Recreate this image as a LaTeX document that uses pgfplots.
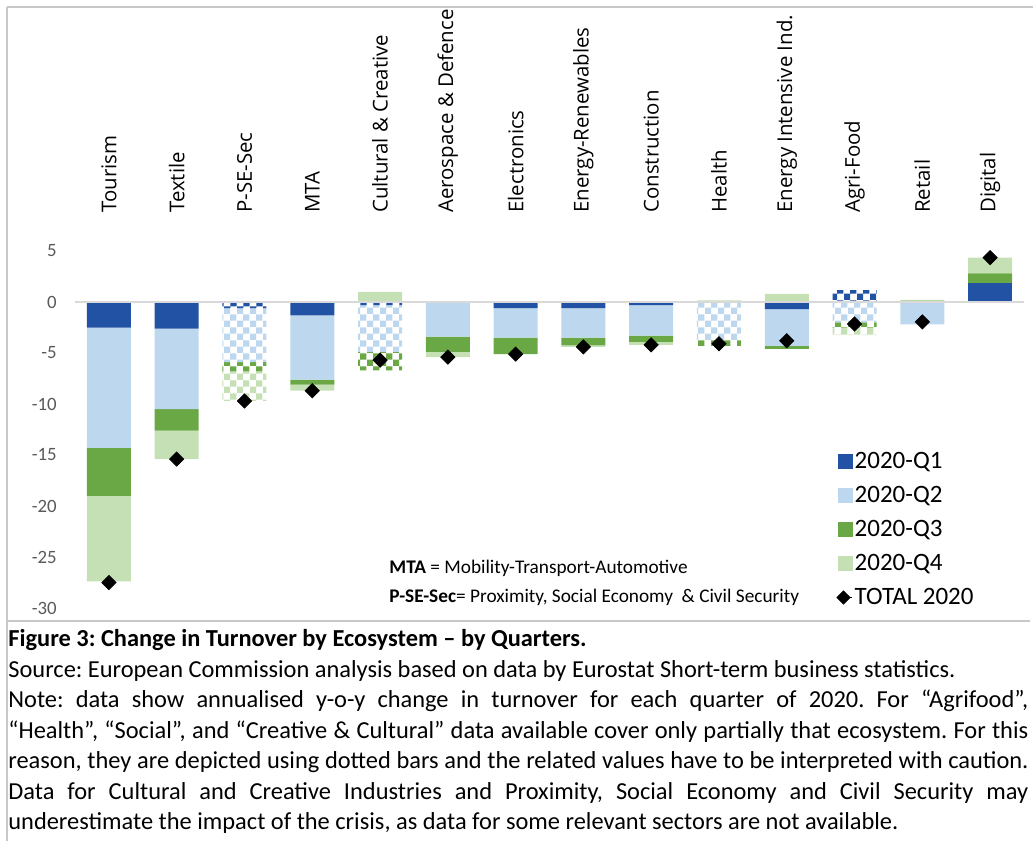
\documentclass[border=0pt]{standalone}
\usepackage{fontspec}
\setmainfont{Carlito}
\newfontfamily\catfont{Open Sans}
\usepackage{pgfplots}
\usepackage{pgfplotstable}
\pgfplotsset{compat=1.18}
\usetikzlibrary{patterns}

\definecolor{qone}{RGB}{34,82,163}
\definecolor{qtwo}{RGB}{189,215,238}
\definecolor{qthree}{RGB}{106,168,69}
\definecolor{qfour}{RGB}{197,224,180}
\definecolor{axgray}{RGB}{217,217,217}
\definecolor{tickgray}{RGB}{89,89,89}
\definecolor{framegray}{RGB}{200,200,200}

% checker pattern for the partially covered ecosystems
\pgfdeclarepatternformonly{chk}{\pgfpointorigin}{\pgfqpoint{6.6pt}{6.6pt}}{\pgfqpoint{6.6pt}{6.6pt}}{%
  \pgfpathrectangle{\pgfpointorigin}{\pgfqpoint{3.3pt}{3.3pt}}%
  \pgfpathrectangle{\pgfqpoint{3.3pt}{3.3pt}}{\pgfqpoint{3.3pt}{3.3pt}}%
  \pgfusepath{fill}}

% negative parts, solid bars
\pgfplotstableread{
x q1 q2 q3 q4
0 -2.5 -11.8 -4.7 -8.4
1 -2.6 -7.9 -2.1 -2.8
2 0 0 0 0
3 -1.3 -6.3 -0.5 -0.6
4 0 0 0 0
5 0 -3.4 -1.5 -0.5
6 -0.6 -2.9 -1.6 0
7 -0.6 -2.9 -0.75 -0.15
8 -0.3 -3.0 -0.6 -0.3
9 0 0 0 0
10 -0.7 -3.6 -0.3 0
11 0 0 0 0
12 0 -2.2 0 0
13 0 0 0 0
}\negsolid

% negative parts, dotted bars
\pgfplotstableread{
x q1 q2 q3 q4
0 0 0 0 0
1 0 0 0 0
2 -0.6 -5.3 -0.9 -2.9
3 0 0 0 0
4 -0.3 -4.6 -1.8 0
5 0 0 0 0
6 0 0 0 0
7 0 0 0 0
8 0 0 0 0
9 0 -3.7 -0.6 0
10 0 0 0 0
11 0 -2.0 -0.55 -0.7
12 0 0 0 0
13 0 0 0 0
}\negpat

% positive parts
\pgfplotstableread{
x q1 q1p q3 q4
0 0 0 0 0
1 0 0 0 0
2 0 0 0 0
3 0 0 0 0
4 0 0 0 1.0
5 0 0 0 0
6 0 0 0 0
7 0 0 0 0
8 0 0 0 0
9 0 0 0 0.15
10 0 0 0 0.8
11 0 1.1 0 0
12 0 0 0.1 0.1
13 1.85 0 0.95 1.55
}\pos

\pgfplotstableread{
x t
0 -27.5
1 -15.4
2 -9.7
3 -8.7
4 -5.7
5 -5.4
6 -5.1
7 -4.4
8 -4.2
9 -4.1
10 -3.8
11 -2.15
12 -1.95
13 4.35
}\totals

\pgfplotsset{
  base/.style={
    scale only axis, width=474.5pt, height=178.5pt,
    at={(37.5pt,-304pt)}, anchor=south west,
    xmin=-0.5, xmax=13.5, ymin=-30, ymax=5,
  },
  solid/.style={draw=none, fill=#1},
  pat/.style={draw=none, pattern=chk, pattern color=#1},
}

\begin{document}
\frenchspacing
\begin{tikzpicture}
\path[use as bounding box] (0,0) rectangle (516.5pt,-420.5pt);

% frame lines of the figure box
\draw[framegray, line width=1pt] (3.7pt,-3.5pt) -- (516.5pt,-3.5pt);
\draw[framegray, line width=1pt] (3.7pt,-3.5pt) -- (3.7pt,-420.5pt);
\draw[framegray, line width=1pt] (3.7pt,-310.5pt) -- (515pt,-310.5pt);

% negative stack, with all the labels
\begin{axis}[base, ybar stacked, bar width=22pt,
  axis line style={draw=none}, major tick length=0pt,
  xtick={0,...,13},
  xticklabels={Tourism,Textile,P-SE-Sec,MTA,Cultural \& Creative,Aerospace \& Defence,Electronics,Energy-Renewables,Construction,Health,Energy Intensive Ind.,Agri-Food,Retail,Digital},
  xticklabel pos=upper,
  xticklabel style={rotate=90, anchor=west, inner sep=0pt, font=\catfont\fontsize{10.2}{12}\selectfont},
  xticklabel shift=19pt,
  ytick={-30,-25,...,5},
  yticklabel style={anchor=east, inner sep=0pt, text=tickgray, font=\fontsize{9.4}{11}\selectfont},
  yticklabel shift=9pt,
  /pgf/number format/assume math mode=true,
]
\addplot[solid=qone] table[x=x,y=q1]{\negsolid};
\addplot[pat=qone] table[x=x,y=q1]{\negpat};
\addplot[solid=qtwo] table[x=x,y=q2]{\negsolid};
\addplot[pat=qtwo] table[x=x,y=q2]{\negpat};
\addplot[solid=qthree] table[x=x,y=q3]{\negsolid};
\addplot[pat=qthree] table[x=x,y=q3]{\negpat};
\addplot[solid=qfour] table[x=x,y=q4]{\negsolid};
\addplot[pat=qfour] table[x=x,y=q4]{\negpat};
\end{axis}

% positive stack
\begin{axis}[base, hide axis, ybar stacked, bar width=22pt]
\addplot[solid=qone] table[x=x,y=q1]{\pos};
\addplot[pat=qone] table[x=x,y=q1p]{\pos};
\addplot[solid=qthree] table[x=x,y=q3]{\pos};
\addplot[solid=qfour] table[x=x,y=q4]{\pos};
\end{axis}

% zero line, totals and legend
\begin{axis}[base, hide axis,
  legend style={at={(0.802,0.448)}, anchor=north west, draw=none, fill=none,
    inner sep=0pt, row sep=4pt, font=\fontsize{12.5}{15}\selectfont,
    nodes={inner sep=1pt, text height=9pt, text depth=2pt}},
  legend cell align=left,
]
\draw[axgray, line width=1pt] (axis cs:-0.5,0) -- (axis cs:13.5,0);
\addlegendimage{legend image code/.code={\fill[qone] (0pt,-3.5pt) rectangle (7pt,3.5pt);}}
\addlegendentry{2020-Q1}
\addlegendimage{legend image code/.code={\fill[qtwo] (0pt,-3.5pt) rectangle (7pt,3.5pt);}}
\addlegendentry{2020-Q2}
\addlegendimage{legend image code/.code={\fill[qthree] (0pt,-3.5pt) rectangle (7pt,3.5pt);}}
\addlegendentry{2020-Q3}
\addlegendimage{legend image code/.code={\fill[qfour] (0pt,-3.5pt) rectangle (7pt,3.5pt);}}
\addlegendentry{2020-Q4}
\addplot[only marks, mark=square*, mark size=2.5pt, mark options={rotate=45, fill=black, draw=black},
  legend image code/.code={\path (0pt,0pt) -- (7pt,0pt);
    \fill[black] (2.6pt,-3.3pt) -- (5.9pt,0pt) -- (2.6pt,3.3pt) -- (-0.7pt,0pt) -- cycle;}]
  table[x=x,y=t]{\totals};
\addlegendentry{TOTAL 2020}
\end{axis}

\node[anchor=west, inner sep=0pt, font=\fontsize{9.65}{11}\selectfont] at (194.5pt,-284pt)
  {\textbf{MTA} = Mobility-Transport-Automotive};
\node[anchor=west, inner sep=0pt, font=\fontsize{9.65}{11}\selectfont] at (194.5pt,-298.5pt)
  {\textbf{P-SE-Sec}= Proximity, Social Economy\ \ \& Civil Security};

\node[anchor=north west, inner sep=0pt, text width=510pt, align=justify,
  font=\fontsize{12.2}{15.25}\selectfont] at (4pt,-314.5pt) {%
  \textbf{Figure 3: Change in Turnover by Ecosystem – by Quarters.}\newline
  Source: European Commission analysis based on data by Eurostat Short-term business statistics.\newline
  Note: data show annualised y-o-y change in turnover for each quarter of 2020. For “Agrifood”,\linebreak
  “Health”, “Social”, and “Creative \& Cultural” data available cover only partially that ecosystem. For this\linebreak
  reason, they are depicted using dotted bars and the related values have to be interpreted with caution.\linebreak
  Data for Cultural and Creative Industries and Proximity, Social Economy and Civil Security may\linebreak
  underestimate the impact of the crisis, as data for some relevant sectors are not available.};
\end{tikzpicture}
\end{document}
